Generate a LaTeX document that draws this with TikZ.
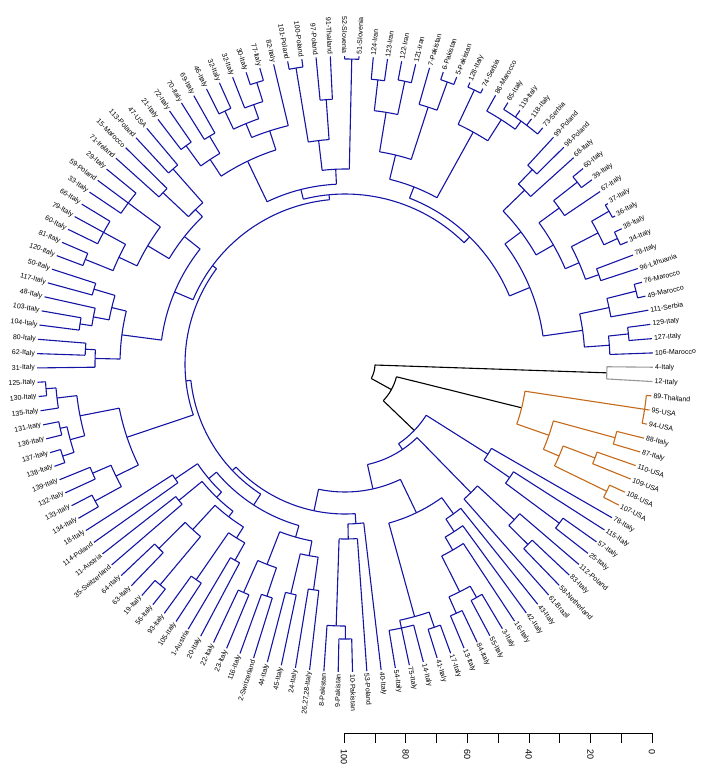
\documentclass[tikz,border=0pt]{standalone}
\usepackage{fontspec}
\setmainfont{Liberation Sans}
\usepackage{tikz}

\def\ze{-0.6}
\def\st{2.6667}

\begin{document}
\begin{tikzpicture}[x=1pt,y=1pt,
  br/.style={line width=1.1pt, draw={rgb,255:red,20;green,20;blue,165}},
  orb/.style={line width=1.1pt, draw={rgb,255:red,196;green,106;blue,26}},
  grb/.style={line width=1.1pt, draw={rgb,255:red,150;green,150;blue,150}},
  blb/.style={line width=1.1pt, draw=black},
  leaflab/.style={font=\fontsize{7}{8}\selectfont, inner sep=1pt},
  axlab/.style={font=\fontsize{9}{10}\selectfont, inner sep=0pt}]
\useasboundingbox (0,0) rectangle (708,-772);

\begin{scope}[shift={(345,-364)}]
% black part near the root
\draw[blb] ({\ze-(1.5-1)*\st}:30) arc[start angle={\ze-(1.5-1)*\st}, end angle={\ze-(11.6-1)*\st}, radius=30];
\draw[blb] ({\ze-(11.6-1)*\st}:30) -- ({\ze-(11.6-1)*\st}:53);
\draw[blb] ({\ze-(6-1)*\st}:53) arc[start angle={\ze-(6-1)*\st}, end angle={\ze-(17.2-1)*\st}, radius=53];
\draw[blb] ({\ze-(1.5-1)*\st}:30) -- ({\ze-(1.5-1)*\st}:262);
\draw[blb] ({\ze-(6-1)*\st}:53) -- ({\ze-(6-1)*\st}:182);
\draw[blb] ({\ze-(17.2-1)*\st}:53) -- ({\ze-(17.2-1)*\st}:96);

% inner nodes: position/radius/parent radius/first child/last child
\foreach \p/\r/\q/\a/\b/\s in {1.5/262/262/1/2/grb,
  4/303/182/3/5/orb, 6.5/280/216/6/7/orb, 8.5/267/233/8/9/orb,
  10.5/291/233/10/11/orb, 9.5/233/216/8.5/10.5/orb, 8/216/182/6.5/9.5/orb,
  6/182/182/4/8/orb}{
  \pgfmathsetmacro\P{\ze-(\p-1)*\st}
  \pgfmathsetmacro\A{\ze-(\a-1)*\st}
  \pgfmathsetmacro\B{\ze-(\b-1)*\st}
  \draw[\s] (\P:\q) -- (\P:\r);
  \draw[\s] (\A:\r) arc[start angle=\A, end angle=\B, radius=\r];
}
\foreach \p/\r/\q/\a/\b in {
  % lower right
  14.5/267/200/14/15, 13.75/200/169/13/14.5, 12.875/169/96/12/13.75,
  17.5/257/230/17/18, 16.75/230/180/16/17.5, 17.875/180/103/16.75/19,
  23.5/268/255/23/24, 25.5/273/255/25/26, 24.5/255/215/23.5/25.5,
  23.25/215/200/22/24.5, 22.125/200/185/21/23.25, 21.0625/185/165/20/22.125,
  27.5/278/262/27/28, 30/270/262/29/31, 28.75/262/165/27.5/30,
  24.906/165/128/21.0625/28.75,
  34.5/275/262/34/35, 35.25/262/175/34.5/36, 34.125/175/160/33/35.25,
  33.0625/160/150/32/34.125,
  % lower left
  37.5/228/195/37/38, 39.5/236/195/39/40, 38.5/195/180/37.5/39.5,
  41.5/245/215/41/42, 43.5/250/215/43/44, 42.5/215/180/41.5/43.5,
  40.5/180/168/38.5/42.5, 45.5/225/205/45/46, 47.5/262/205/47/48,
  46.5/205/192/45.5/47.5, 49.5/288/225/49/50, 51.5/262/225/51/52,
  50.5/225/192/49.5/51.5, 48.5/192/185/46.5/50.5, 53.5/215/185/53/54,
  51/185/178/48.5/53.5, 55.5/205/178/55/56, 53.25/178/168/51/55.5,
  46.875/168/155/40.5/53.25,
  % left
  57.5/285/255/57/58, 59.5/275/255/59/60, 58.5/255/230/57.5/59.5,
  61.5/297/285/61/62, 63.5/292/285/63/64, 62.5/285/270/61.5/63.5,
  66.5/300/290/66/67, 65.75/290/270/65/66.5, 64.125/270/230/62.5/65.75,
  61.3125/230/160/58.5/64.125,
  % upper left
  69.5/260/250/69/70, 68.75/250/225/68/69.5, 71.5/268/256/71/72,
  72.25/256/240/71.5/73, 74.5/262/240/74/75, 73.375/240/225/72.25/74.5,
  71.0625/225/185/68.75/73.375, 76.5/280/250/76/77, 79/275/250/78/80,
  77.75/250/230/76.5/79, 82/270/230/81/83, 79.875/230/205/77.75/82,
  84.5/250/215/84/85, 86.5/260/215/86/87, 85.5/215/205/84.5/86.5,
  82.6875/205/185/79.875/85.5, 76.875/185/165/71.0625/82.6875,
  % top
  88.5/270/245/88/89, 90.5/265/245/90/91, 89.5/245/225/88.5/90.5,
  92.5/280/260/92/93, 95.5/295/275/95/96, 94.75/275/260/94/95.5,
  93.625/260/245/92.5/94.75, 95.3125/245/225/93.625/97,
  92.40625/225/180/89.5/95.3125, 98.5/300/225/98/99, 100.5/265/225/100/101,
  99.5/225/195/98.5/100.5, 102.5/305/195/102/103, 101/195/180/99.5/102.5,
  96.703/180/170/92.40625/101,
  104.5/286/255/104/105, 106.5/289/255/106/107, 105.5/255/215/104.5/106.5,
  109.5/300/270/109/110, 108.75/270/215/108/109.5, 107.125/215/190/105.5/108.75,
  111.5/303/265/111/112, 115.5/300/290/114/117, 114.25/290/265/113/115.5,
  112.875/265/190/111.5/114.25, 110/190/178/107.125/112.875,
  % right
  118.5/270/250/118/119, 119.25/250/220/118.5/120, 121.5/295/265/121/122,
  122.25/265/240/121.5/123, 124.5/305/285/124/125, 126.5/300/285/126/127,
  125.5/285/255/124.5/126.5, 128.5/269/255/128/129, 127/255/240/125.5/128.5,
  124.625/240/220/122.25/127, 121.94/220/200/119.25/124.625,
  130.5/300/270/130/131, 131.25/270/240/130.5/132, 133.5/285/265/133/134,
  134.25/265/240/133.5/135, 132.75/240/200/131.25/134.25,
  127.34/200/178/121.94/132.75,
  % inner ladder
  17.2/96/96/12.875/21.8, 21.8/103/96/17.875/29.8, 29.8/128/103/24.906/39,
  39/150/128/33.0625/52, 52/155/150/46.875/66, 66/160/155/61.3125/82,
  82/165/160/76.875/100, 100/170/165/96.703/118.7, 118.7/178/170/110/127.34}{
  \pgfmathsetmacro\P{\ze-(\p-1)*\st}
  \pgfmathsetmacro\A{\ze-(\a-1)*\st}
  \pgfmathsetmacro\B{\ze-(\b-1)*\st}
  \draw[br] (\P:\q) -- (\P:\r);
  \draw[br] (\A:\r) arc[start angle=\A, end angle=\B, radius=\r];
}

% leaves: index/parent radius/colour/label
\foreach \i/\q/\s/\lab in {1/262/grb/4-Italy, 2/262/grb/12-Italy,
  3/303/orb/89-Thailand, 4/303/orb/95-USA, 5/303/orb/94-USA, 6/280/orb/88-Italy,
  7/280/orb/87-Italy, 8/267/orb/110-USA, 9/267/orb/109-USA, 10/291/orb/108-USA,
  11/291/orb/107-USA,
  12/169/br/78-Italy, 13/200/br/115-Italy, 14/267/br/57-Italy, 15/267/br/25-Italy,
  16/230/br/112-Poland, 17/257/br/83-Italy, 18/257/br/58-Netherland,
  19/180/br/61-Brazil, 20/185/br/43-Italy, 21/200/br/42-Italy, 22/215/br/16-Italy,
  23/268/br/3-Italy, 24/268/br/55-Italy, 25/273/br/84-Italy, 26/273/br/13-Italy,
  27/278/br/17-Italy, 28/278/br/41-Italy, 29/270/br/14-Italy, 30/270/br/75-Italy,
  31/270/br/54-Italy, 32/160/br/40-Italy, 33/175/br/53-Poland,
  34/275/br/10-Pakistan, 35/275/br/9-Pakistan, 36/262/br/8-Pakistan,
  37/228/br/{26,27,28-Italy}, 38/228/br/24-Italy, 39/236/br/45-Italy,
  40/236/br/44-Italy, 41/245/br/2-Switzerland, 42/245/br/116-Italy,
  43/250/br/23-Italy, 44/250/br/22-Italy, 45/225/br/20-Italy, 46/225/br/1-Austria,
  47/262/br/105-Italy, 48/262/br/93-Italy, 49/288/br/56-Italy, 50/288/br/19-Italy,
  51/262/br/63-Italy, 52/262/br/64-Italy, 53/215/br/35-Switzerland,
  54/215/br/11-Austria, 55/205/br/114-Poland, 56/205/br/18-Italy,
  57/285/br/134-Italy, 58/285/br/133-Italy, 59/275/br/132-Italy,
  60/275/br/139-Italy, 61/297/br/138-Italy, 62/297/br/137-Italy,
  63/292/br/136-Italy, 64/292/br/131-Italy, 65/290/br/135-Italy,
  66/300/br/130-Italy, 67/300/br/125-Italy,
  68/250/br/31-Italy, 69/260/br/62-Italy, 70/260/br/80-Italy, 71/268/br/104-Italy,
  72/268/br/103-Italy, 73/256/br/48-Italy, 74/262/br/117-Italy, 75/262/br/50-Italy,
  76/280/br/120-Italy, 77/280/br/81-Italy, 78/275/br/60-Italy, 79/275/br/79-Italy,
  80/275/br/66-Italy, 81/270/br/33-Italy, 82/270/br/59-Poland, 83/270/br/29-Italy,
  84/250/br/71-Ireland, 85/250/br/15-Marocco, 86/260/br/113-Poland, 87/260/br/47-USA,
  88/270/br/21-Italy, 89/270/br/72-Italy, 90/265/br/70-Italy, 91/265/br/69-Italy,
  92/280/br/46-Italy, 93/280/br/32-Italy, 94/275/br/32-Italy, 95/295/br/30-Italy,
  96/295/br/77-Italy, 97/245/br/82-Italy, 98/300/br/101-Poland,
  99/300/br/100-Poland, 100/265/br/97-Poland, 101/265/br/91-Thailand,
  102/305/br/52-Slovenia, 103/305/br/51-Slovenia,
  104/286/br/124-Iran, 105/286/br/123-Iran, 106/289/br/122-Iran, 107/289/br/121-Iran,
  108/270/br/7-Pakistan, 109/300/br/6-Pakistan, 110/300/br/5-Pakistan,
  111/303/br/128-Italy, 112/303/br/74-Serbia, 113/290/br/86-Marocco,
  114/300/br/65-Italy, 115/300/br/119-Italy, 116/300/br/118-Italy,
  117/300/br/73-Serbia,
  118/270/br/99-Poland, 119/270/br/98-Poland, 120/250/br/68-Italy,
  121/295/br/60-Italy, 122/295/br/39-Italy, 123/265/br/67-Italy,
  124/305/br/37-Italy, 125/305/br/36-Italy, 126/300/br/38-Italy,
  127/300/br/34-Italy, 128/269/br/78-Italy, 129/269/br/96-Lithuania,
  130/300/br/76-Marocco, 131/300/br/49-Marocco, 132/270/br/111-Serbia,
  133/285/br/129-Italy, 134/285/br/127-Italy, 135/265/br/106-Marocco}{
  \pgfmathsetmacro\A{\ze-(\i-1)*\st}
  \pgfmathtruncatemacro\rt{cos(\A)>0 ? 1 : 0}
  \draw[\s] (\A:\q) -- (\A:308);
  \ifnum\rt=1
    \node[leaflab, anchor=west, rotate=\A] (lab\i) at (\A:309) {\lab};
  \else
    \node[leaflab, anchor=east, rotate=\A+180] (lab\i) at (\A:309) {\lab};
  \fi
}
\end{scope}

% height axis
\draw[line width=0.6pt] (344,-733) -- (652,-733);
\foreach \k in {0,...,10}
  \draw[line width=0.6pt] ({344+30.8*\k},-733) -- ({344+30.8*\k},-743);
\foreach \k/\v in {0/100, 2/80, 4/60, 6/40, 8/20, 10/0}
  \node[axlab, anchor=west, rotate=-90] (ax\v) at ({344+30.8*\k},-749) {\v};
\end{tikzpicture}
\end{document}
